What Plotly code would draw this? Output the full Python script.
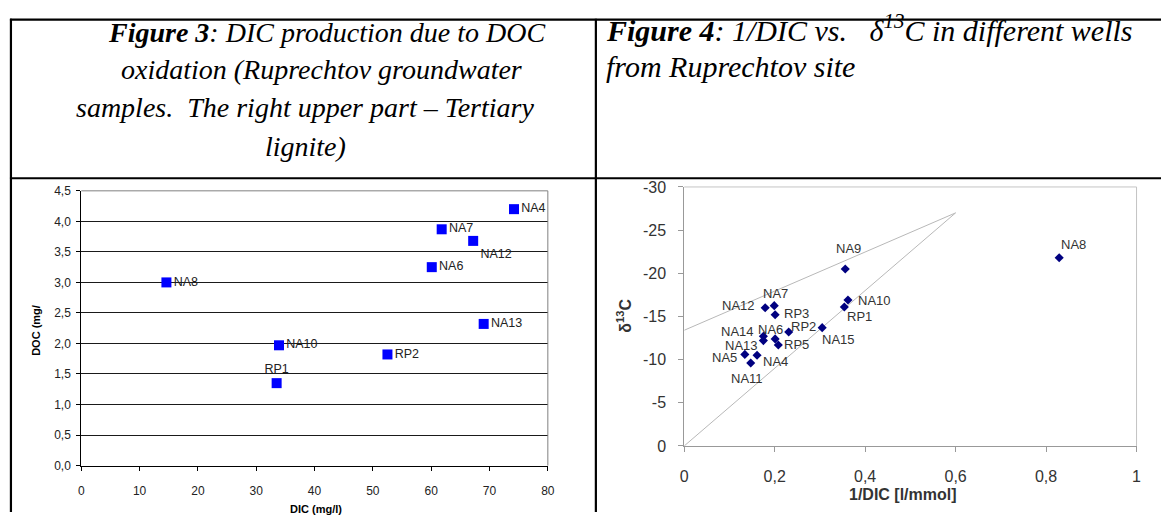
import plotly.graph_objects as go

# ---------------- data ----------------
# Figure 3: DOC vs DIC
fig3_names = ["NA8", "NA10", "RP1", "RP2", "NA13", "NA6", "NA7", "NA12", "NA4"]
fig3_dic = [14.6, 33.9, 33.5, 52.5, 69.0, 60.1, 61.8, 67.2, 74.2]
fig3_doc = [3.0, 1.97, 1.35, 1.82, 2.32, 3.25, 3.87, 3.68, 4.2]
fig3_xticks = [0, 10, 20, 30, 40, 50, 60, 70, 80]
fig3_yticks = [0, 0.5, 1.0, 1.5, 2.0, 2.5, 3.0, 3.5, 4.0, 4.5]

# Figure 4: delta13C vs 1/DIC
fig4_names = ["NA12", "NA7", "RP3", "NA14", "NA13", "NA6", "RP5", "RP2",
              "NA15", "NA5", "NA4", "NA11", "NA9", "NA10", "RP1", "NA8"]
fig4_inv_dic = [0.179, 0.199, 0.201, 0.175, 0.175, 0.201, 0.208, 0.231,
                0.305, 0.134, 0.161, 0.147, 0.356, 0.362, 0.354, 0.829]
fig4_d13c = [-16.0, -16.25, -15.2, -12.7, -12.2, -12.4, -11.7, -13.2,
             -13.7, -10.6, -10.5, -9.6, -20.5, -16.9, -16.1, -21.8]
fig4_line_upper_x = [0.0, 0.6]
fig4_line_upper_y = [-13.4, -27.0]
fig4_line_lower_x = [0.0, 0.6]
fig4_line_lower_y = [0.0, -27.0]
fig4_xticks = [0, 0.2, 0.4, 0.6, 0.8, 1.0]
fig4_xtick_labels = ["0", "0,2", "0,4", "0,6", "0,8", "1"]
fig4_yticks = [0, -5, -10, -15, -20, -25, -30]
fig4_ytick_labels = ["0", "-5", "-10", "-15", "-20", "-25", "-30"]

# ---------------- styles ----------------
W, H = 1168, 521
def px(x):
    return x / W
def py(y):
    return 1 - y / H

fig3_textpos = ["middle right", "middle right", "top center", "middle right",
                "middle right", "middle right", "middle right", "bottom right",
                "middle right"]
# label offsets (screen px, dy downward) for figure 4 labels
fig4_label_dx = [-27, 1, 21, -26, -22, -5, 18, 15, 16, -20, 18, -4, 3, 27, 15, 14]
fig4_label_dy = [-2, -12, -1, -5, 5, -9, 0, -5, 12, 3, 6, 15, -20, 0, 10, -13]

SANS = "Liberation Sans, Arial, sans-serif"
SERIF = "Liberation Serif, Times New Roman, serif"

fig = go.Figure()

fig.add_trace(go.Scatter(
    x=fig3_dic, y=fig3_doc, mode="markers+text", text=fig3_names,
    textposition=fig3_textpos,
    textfont=dict(family=SANS, size=12.5, color="#222222"),
    marker=dict(symbol="square", size=10, color="#0000FF"),
    xaxis="x", yaxis="y", cliponaxis=False, showlegend=False))

fig.add_trace(go.Scatter(
    x=fig4_line_upper_x, y=fig4_line_upper_y, mode="lines",
    line=dict(color="#b8b8b8", width=1), xaxis="x2", yaxis="y2", showlegend=False))
fig.add_trace(go.Scatter(
    x=fig4_line_lower_x, y=fig4_line_lower_y, mode="lines",
    line=dict(color="#b8b8b8", width=1), xaxis="x2", yaxis="y2", showlegend=False))

fig.add_trace(go.Scatter(
    x=fig4_inv_dic, y=fig4_d13c, mode="markers",
    marker=dict(symbol="diamond", size=7, color="#000080"),
    xaxis="x2", yaxis="y2", cliponaxis=False, showlegend=False))

fig.update_layout(
    width=W, height=H, margin=dict(l=0, r=0, t=0, b=0),
    paper_bgcolor="white", plot_bgcolor="white",
    separators=",.",
    xaxis=dict(domain=[px(78), px(549)], range=[0, 80], tickvals=fig3_xticks,
               showgrid=False, zeroline=False, showline=True, linecolor="#000000",
               linewidth=1, ticks="outside", ticklen=4, tickcolor="#000000",
               tickfont=dict(family=SANS, size=12, color="#222222"),
               ticklabelstandoff=10, anchor="y", fixedrange=True),
    yaxis=dict(domain=[py(473), py(189)], range=[0, 4.5], tickvals=fig3_yticks,
               tickformat=".1f", showgrid=True, gridcolor="#1a1a1a", gridwidth=1,
               zeroline=False, showline=True, linecolor="#000000", linewidth=1,
               ticks="outside", ticklen=4, tickcolor="#000000",
               tickfont=dict(family=SANS, size=12, color="#222222"),
               ticklabelstandoff=3, anchor="x", fixedrange=True),
    xaxis2=dict(domain=[px(686.7), px(1143.3)], range=[0, 1], tickvals=fig4_xticks,
                ticktext=fig4_xtick_labels, showgrid=False, zeroline=False,
                showline=True, linecolor="#999999", linewidth=1, ticks="outside",
                ticklen=5, tickcolor="#999999",
                tickfont=dict(family=SANS, size=16, color="#333333"),
                ticklabelstandoff=11, anchor="y2", fixedrange=True),
    yaxis2=dict(domain=[py(452.7), py(185)], range=[0, -30], tickvals=fig4_yticks,
                ticktext=fig4_ytick_labels, showgrid=False, zeroline=False,
                showline=True, linecolor="#999999", linewidth=1, ticks="outside",
                ticklen=5, tickcolor="#999999",
                tickfont=dict(family=SANS, size=16, color="#333333"),
                ticklabelstandoff=9, anchor="x2", fixedrange=True),
)

shapes = []
# plot boxes (top/right edges)
shapes.append(dict(type="line", xref="x domain", yref="y domain", x0=0, x1=1, y0=1, y1=1,
                   line=dict(color="#808080", width=1), layer="above"))
shapes.append(dict(type="line", xref="x domain", yref="y domain", x0=1, x1=1, y0=0, y1=1,
                   line=dict(color="#808080", width=1), layer="above"))
shapes.append(dict(type="line", xref="x2 domain", yref="y2 domain", x0=0, x1=1, y0=1, y1=1,
                   line=dict(color="#c4c4c4", width=1), layer="above"))
shapes.append(dict(type="line", xref="x2 domain", yref="y2 domain", x0=1, x1=1, y0=0, y1=1,
                   line=dict(color="#c4c4c4", width=1), layer="above"))
# table borders
for (x0, y0, x1, y1) in [(6, 12, W, 12), (6, 176, W, 176), (7, 11, 7, H), (597.5, 11, 597.5, H)]:
    shapes.append(dict(type="line", xref="paper", yref="paper",
                       x0=px(x0), x1=px(x1), y0=py(y0), y1=py(y1),
                       line=dict(color="#000000", width=2.2), layer="above"))
fig.update_layout(shapes=shapes)

ann = []
# figure 4 point labels
for n, xv, yv, dx, dy in zip(fig4_names, fig4_inv_dic, fig4_d13c, fig4_label_dx, fig4_label_dy):
    ann.append(dict(text=n, x=xv, y=yv, xref="x2", yref="y2", showarrow=False,
                    xanchor="center", yanchor="middle", xshift=dx, yshift=-dy,
                    font=dict(family=SANS, size=13, color="#333333")))
# axis titles
ann.append(dict(text="<b>DOC (mg/</b>", x=px(32), y=py(333), xref="paper", yref="paper",
                xanchor="center", yanchor="middle",
                textangle=-90, showarrow=False, font=dict(family=SANS, size=11, color="#000000")))
ann.append(dict(text="<b>DIC (mg/l)</b>", x=px(315), y=py(518), xref="paper", yref="paper",
                xanchor="center", yanchor="middle",
                showarrow=False, font=dict(family=SANS, size=11, color="#000000")))
ann.append(dict(text="<b>δ<sup>13</sup>C</b>", x=px(626), y=py(318), xref="paper", yref="paper",
                xanchor="center", yanchor="middle",
                textangle=-90, showarrow=False, font=dict(family=SANS, size=16, color="#333333")))
ann.append(dict(text="<b>1/DIC [l/mmol]</b>", x=px(908), y=py(503), xref="paper", yref="paper",
                xanchor="center", yanchor="middle",
                showarrow=False, font=dict(family=SANS, size=16, color="#333333")))

# header texts
left_lines = ["<b><i>Figure 3</i></b><i>: DIC production due to DOC</i>",
              "<i>oxidation (Ruprechtov groundwater</i>",
              "<i>samples.&nbsp; The right upper part – Tertiary</i>",
              "<i>lignite)</i>"]
left_base = [34, 73, 112, 152]
left_center = [326, 321, 304, 304]
for t, b, c in zip(left_lines, left_base, left_center):
    ann.append(dict(text=t, x=px(c), y=py(b - 9), xref="paper", yref="paper",
                    xanchor="center", yanchor="middle", showarrow=False,
                    font=dict(family=SERIF, size=28, color="#000000")))
right_lines = ["<b><i>Figure 4</i></b><i>: 1/DIC vs.&nbsp;&nbsp; δ<sup>13</sup>C in different wells</i>",
               "<i>from Ruprechtov site</i>"]
right_base = [30, 69]
for t, b in zip(right_lines, right_base):
    ann.append(dict(text=t, x=px(606), y=py(b - 9), xref="paper", yref="paper",
                    xanchor="left", yanchor="middle", showarrow=False,
                    font=dict(family=SERIF, size=30, color="#000000")))
fig.update_layout(annotations=ann)

fig.write_html("out.html")
